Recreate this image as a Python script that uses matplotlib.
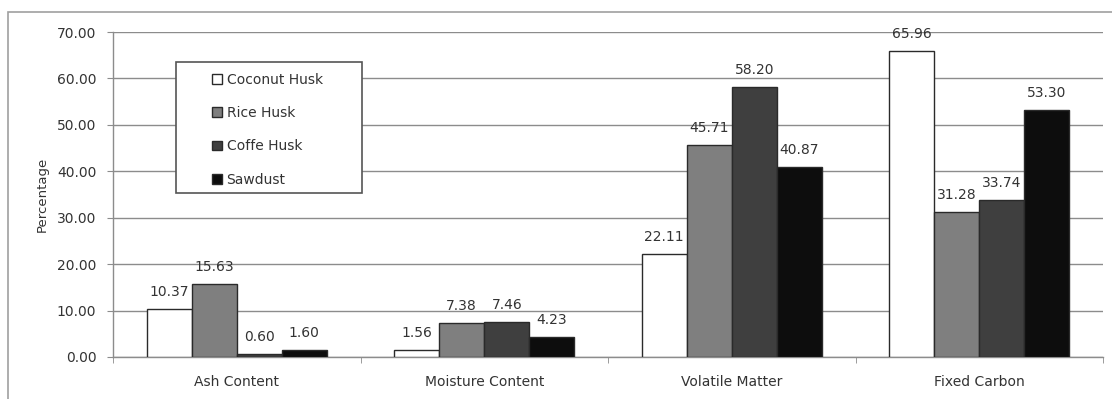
import numpy as np
import matplotlib
matplotlib.use('Agg')
import matplotlib.pyplot as plt
from matplotlib.patches import Rectangle

plt.rcParams['font.family'] = ['DejaVu Sans']

categories = ['Ash Content', 'Moisture Content', 'Volatile Matter', 'Fixed Carbon']
coconut_husk = [10.37, 1.56, 22.11, 65.96]
rice_husk = [15.63, 7.38, 45.71, 31.28]
coffe_husk = [0.60, 7.46, 58.20, 33.74]
sawdust = [1.60, 4.23, 40.87, 53.30]

series = [
    ('Coconut Husk', coconut_husk, '#ffffff'),
    ('Rice Husk', rice_husk, '#7f7f7f'),
    ('Coffe Husk', coffe_husk, '#3f3f3f'),
    ('Sawdust', sawdust, '#0d0d0d'),
]

W, H = 1112, 399
fig = plt.figure(figsize=(W / 100, H / 100), dpi=100)
# outer chart frame
fig.patches.append(Rectangle((8 / W, -0.01), 1.1, 1 - 12 / H + 0.01,
                             transform=fig.transFigure, fill=False,
                             edgecolor='#a0a0a0', linewidth=1.2))

ax = fig.add_axes([113 / W, 1 - 357 / H, 990 / W, 325 / H])

x = np.arange(len(categories))
width = 0.182
for i, (name, vals, color) in enumerate(series):
    pos = x + (i - 1.5) * width
    bars = ax.bar(pos, vals, width, color=color, edgecolor='#2a2a2a',
                  linewidth=1.0, label=name, zorder=3)
    for b, v in zip(bars, vals):
        ax.text(b.get_x() + b.get_width() / 2, v + 2.8, f'{v:.2f}',
                ha='center', va='baseline', fontsize=10, color='#333333', zorder=4)

ax.set_xlim(-0.5, len(categories) - 0.5)
ax.set_ylim(0, 70)
yt = np.arange(0, 71, 10)
ax.set_yticks(yt)
ax.set_yticklabels([f'{t:.2f}' for t in yt], fontsize=10, color='#333333')
ax.yaxis.grid(True, color='#8c8c8c', linewidth=1.0, zorder=0)
ax.set_axisbelow(True)

ax.set_xticks(x)
ax.set_xticklabels(categories, fontsize=10, color='#333333')
ax.tick_params(axis='x', length=0, pad=13)
ax.set_xticks(np.arange(-0.5, len(categories)), minor=True)
ax.tick_params(axis='x', which='minor', length=4, color='#8c8c8c')
ax.tick_params(axis='y', length=4, color='#8c8c8c', pad=8)

for s in ['top', 'right']:
    ax.spines[s].set_visible(False)
for s in ['left', 'bottom']:
    ax.spines[s].set_color('#8c8c8c')
    ax.spines[s].set_linewidth(1.0)

ax.set_ylabel('Percentage', fontsize=9.5, color='#333333', labelpad=6)

# legend box drawn separately so its padding can differ per side
fig.patches.append(Rectangle((176 / W, 1 - 193 / H), 186 / W, 131 / H,
                             transform=fig.transFigure, facecolor='white',
                             edgecolor='#555555', linewidth=1.2, zorder=5))
leg = fig.legend(loc='upper left', bbox_to_anchor=(212 / W, 1 - 73 / H),
                 fontsize=10, frameon=False, handlelength=0.7, handleheight=0.7,
                 handletextpad=0.35, labelspacing=1.38, borderpad=0,
                 borderaxespad=0)
leg.set_zorder(6)
for t in leg.get_texts():
    t.set_color('#333333')

fig.savefig('out.png', dpi=100, facecolor='white')
